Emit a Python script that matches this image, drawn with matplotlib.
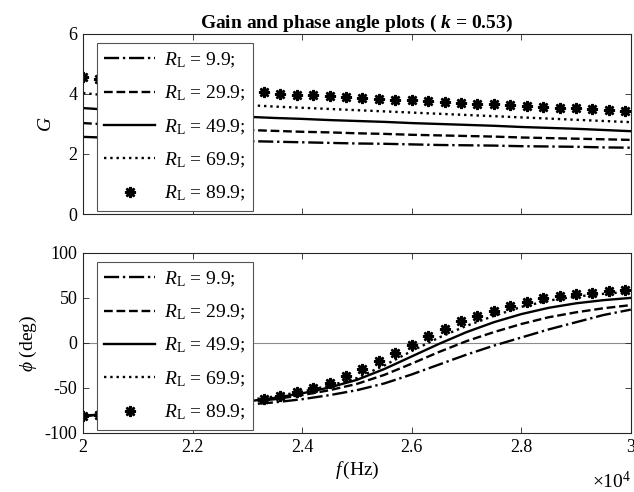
import matplotlib
matplotlib.use("Agg")
import matplotlib.pyplot as plt

plt.rcParams["font.family"] = ["Liberation Serif", "DejaVu Serif"]
plt.rcParams["mathtext.fontset"] = "custom"
plt.rcParams["mathtext.rm"] = "Liberation Serif"
plt.rcParams["mathtext.it"] = "Liberation Serif:italic"
plt.rcParams["mathtext.bf"] = "Liberation Serif:bold"
plt.rcParams["mathtext.bfit"] = "Liberation Serif:bold:italic"
plt.rcParams["axes.unicode_minus"] = False

# frequency grid (x 10^4 Hz) for the line series
freq = [2.00, 2.05, 2.10, 2.15, 2.20, 2.25, 2.30, 2.35, 2.40, 2.45, 2.50,
        2.55, 2.60, 2.65, 2.70, 2.75, 2.80, 2.85, 2.90, 2.95, 3.00]
# coarser grid for the marker-only series
freq_mk = [2.00, 2.03, 2.06, 2.09, 2.12, 2.15, 2.18, 2.21, 2.24, 2.27, 2.30,
           2.33, 2.36, 2.39, 2.42, 2.45, 2.48, 2.51, 2.54, 2.57, 2.60, 2.63,
           2.66, 2.69, 2.72, 2.75, 2.78, 2.81, 2.84, 2.87, 2.90, 2.93, 2.96, 2.99]

loads = ["9.9", "29.9", "49.9", "69.9", "89.9"]

gain_99 = [2.57, 2.54, 2.51, 2.49, 2.47, 2.45, 2.43, 2.41, 2.39, 2.37, 2.35,
           2.34, 2.32, 2.30, 2.29, 2.28, 2.26, 2.25, 2.24, 2.22, 2.21]
gain_299 = [3.03, 2.98, 2.94, 2.90, 2.86, 2.83, 2.80, 2.77, 2.74, 2.72, 2.69,
            2.67, 2.64, 2.62, 2.60, 2.58, 2.55, 2.53, 2.51, 2.49, 2.47]
gain_499 = [3.53, 3.47, 3.42, 3.37, 3.32, 3.28, 3.24, 3.20, 3.17, 3.13, 3.10,
            3.07, 3.03, 3.00, 2.97, 2.94, 2.90, 2.87, 2.84, 2.80, 2.76]
gain_699 = [4.03, 3.94, 3.86, 3.79, 3.73, 3.68, 3.63, 3.58, 3.54, 3.50, 3.46,
            3.42, 3.38, 3.34, 3.30, 3.26, 3.22, 3.18, 3.14, 3.10, 3.06]
gain_899 = [4.57, 4.50, 4.44, 4.38, 4.33, 4.28, 4.24, 4.20, 4.16, 4.12, 4.08,
            4.05, 4.01, 3.98, 3.95, 3.92, 3.90, 3.87, 3.84, 3.81, 3.79, 3.76,
            3.73, 3.71, 3.68, 3.65, 3.62, 3.60, 3.57, 3.54, 3.52, 3.49, 3.47, 3.44]

phase_99 = [-81, -79, -77, -75, -73, -71, -68.5, -66, -62.5, -58, -52.5,
            -45, -35, -24, -13, -3, 6, 15, 23, 31, 37]
phase_299 = [-81, -78.5, -76, -73.5, -71, -68.5, -66, -62.5, -58, -52.5, -45.5,
             -35.5, -23, -10, 2, 12, 21, 28.5, 34, 38.5, 42]
phase_499 = [-81, -78.5, -76, -73.5, -71, -68, -65, -61, -56, -49.5, -41,
             -29, -15, -1, 12, 23, 32, 39, 44, 47.5, 50]
phase_699 = [-81, -78, -75.5, -73, -70, -67, -63.5, -59.5, -54, -47.5, -39,
             -25, -9, 6, 19, 30, 40, 47, 51.5, 54.5, 57]
phase_899 = [-81, -79.5, -78, -76.5, -75, -73.5, -72, -70, -68, -66, -64,
             -62, -59, -55, -50, -44, -37, -29, -20, -11, -2, 8,
             16, 24, 30, 36, 41, 46, 49.5, 52, 54, 56, 57.5, 58.5]

styles = ["-.", "--", "-", ":"]

fig = plt.figure(figsize=(6.34, 4.92), dpi=100)
ax1 = fig.add_axes([0.131, 0.565, 0.864, 0.366])
ax2 = fig.add_axes([0.131, 0.120, 0.864, 0.366])

spine_col = "#262626"


def style_axes(ax):
    for s in ax.spines.values():
        s.set_color(spine_col)
        s.set_linewidth(0.8)
    ax.tick_params(direction="in", top=True, right=True, length=4,
                   width=0.6, color=spine_col, labelsize=13, pad=4)
    ax.set_xlim(2, 3)
    ax.set_xticks([2, 2.2, 2.4, 2.6, 2.8, 3])


def add_legend(ax):
    leg = ax.legend(loc="upper left", bbox_to_anchor=(0.0255, 0.95),
                    borderaxespad=0, fontsize=14, frameon=True, fancybox=False,
                    handlelength=2.6, handletextpad=0.45, labelspacing=0.72,
                    borderpad=0.38)
    leg.get_frame().set_edgecolor("#555555")
    leg.get_frame().set_linewidth(0.8)
    leg.get_frame().set_alpha(1)


gains = [gain_99, gain_299, gain_499, gain_699]
phases = [phase_99, phase_299, phase_499, phase_699]

for g, ls, r in zip(gains, styles, loads):
    ax1.plot(freq, g, ls=ls, color="black", lw=1.7,
             label=r"$R_{\mathrm{L}}$ = " + r + ";")
ax1.plot(freq_mk, gain_899, ls="none", marker=(8, 2, 0), ms=8, mew=1.8,
         color="black", label=r"$R_{\mathrm{L}}$ = " + loads[4] + ";")

ax2.axhline(0, color="#8a8a8a", lw=0.8, zorder=0)
for p, ls, r in zip(phases, styles, loads):
    ax2.plot(freq, p, ls=ls, color="black", lw=1.7,
             label=r"$R_{\mathrm{L}}$ = " + r + ";")
ax2.plot(freq_mk, phase_899, ls="none", marker=(8, 2, 0), ms=8, mew=1.8,
         color="black", label=r"$R_{\mathrm{L}}$ = " + loads[4] + ";")

style_axes(ax1)
ax1.set_ylim(0, 6)
ax1.set_yticks([0, 2, 4, 6])
ax1.set_xticklabels([])
ax1.set_ylabel(r"$G$", fontsize=14, labelpad=10)
ax1.set_title(r"Gain and phase angle plots ( $\mathbfit{k}$ = 0.53)",
              fontsize=14, fontweight="bold", pad=3)
add_legend(ax1)

style_axes(ax2)
ax2.set_ylim(-100, 100)
ax2.set_yticks([-100, -50, 0, 50, 100])
ax2.set_xticklabels(["2", "2.2", "2.4", "2.6", "2.8", "3"])
ax2.set_ylabel(r"$\phi$ (deg)", fontsize=14, labelpad=4)
ax2.set_xlabel(r"$f\,$(Hz)", fontsize=14, labelpad=3)
add_legend(ax2)

fig.text(0.996, 0.0, r"$\times10^{4}$", ha="right", va="bottom", fontsize=14)

fig.savefig("out.png", dpi=100)
